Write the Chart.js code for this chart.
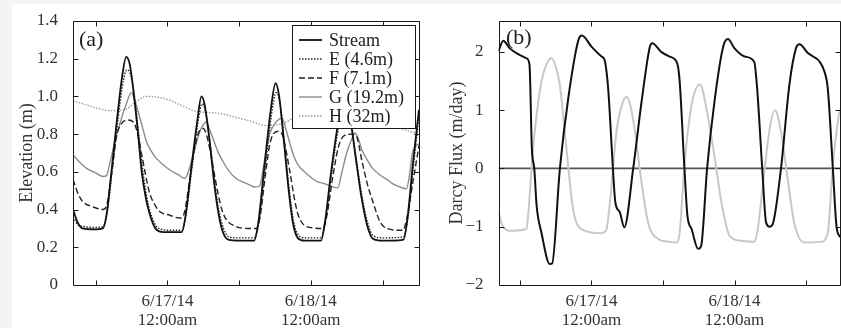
<!DOCTYPE html>
<html>
<head>
<meta charset="utf-8">
<script src="https://cdn.jsdelivr.net/npm/chart.js@4.4.0/dist/chart.umd.min.js"></script>
<style>
  body { margin: 0; background: #f4f4f4; width: 841px; height: 328px; overflow: hidden; position: relative; }
  #sheet { position: absolute; left: 12px; top: 4px; right: 0; bottom: 0; background: #fff; }
  canvas { position: absolute; top: 0; }
  #elev { left: 0; }
  #flux { left: 420px; }
</style>
</head>
<body>
<div id="sheet"></div>
<canvas id="elev" width="420" height="328"></canvas>
<canvas id="flux" width="421" height="328"></canvas>
<script>
// time axis: hours relative to 6/17/14 12:00am
const timeTicks = [-12, 0, 12, 24, 36];
const timeLabels = { 0: ['6/17/14', '12:00am'], 24: ['6/18/14', '12:00am'] };
const elevTicks = [0, 0.2, 0.4, 0.6, 0.8, 1.0, 1.2, 1.4];
const fluxTicks = [-2, -1, 0, 1, 2];

// (a) elevation (m), [hour, value]
const stream = [[-15.8,0.40],[-15.0,0.33],[-14.2,0.30],[-12,0.295],[-10.8,0.30],[-10.2,0.37],[-9.3,0.62],[-8.5,0.86],[-7.6,1.10],[-6.9,1.21],[-6.3,1.17],[-5.8,1.06],[-5.0,0.83],[-4.3,0.60],[-3.6,0.46],[-3.0,0.38],[-2.2,0.31],[-1.4,0.285],[0.5,0.28],[2.4,0.28],[3.0,0.36],[4.0,0.62],[5.0,0.87],[5.7,1.0],[6.2,0.96],[7.0,0.78],[7.9,0.52],[8.6,0.37],[9.3,0.28],[10.2,0.24],[12,0.235],[14.5,0.235],[15.2,0.33],[16.2,0.62],[17.3,0.93],[18.1,1.07],[18.7,1.0],[19.5,0.76],[20.3,0.50],[21.0,0.33],[21.8,0.25],[23,0.235],[25.7,0.235],[26.3,0.32],[27.4,0.60],[28.6,0.86],[29.7,0.95],[30.5,0.90],[31.4,0.70],[32.4,0.48],[33.4,0.32],[34.4,0.245],[36,0.235],[37.5,0.235],[39.5,0.24],[40.2,0.36],[41.1,0.65],[42.1,0.93]];
const wellE = [[-15.8,0.36],[-15,0.32],[-14,0.31],[-12,0.305],[-10.8,0.31],[-10.1,0.38],[-9.2,0.62],[-8.3,0.87],[-7.4,1.08],[-6.8,1.14],[-6.2,1.12],[-5.6,1.02],[-4.8,0.80],[-4.1,0.60],[-3.3,0.44],[-2.6,0.36],[-1.8,0.31],[-1,0.295],[0.5,0.29],[2.4,0.29],[3.1,0.37],[4.1,0.62],[5.1,0.86],[5.8,0.96],[6.3,0.93],[7.1,0.76],[8.0,0.52],[8.7,0.38],[9.4,0.30],[10.3,0.255],[12,0.25],[14.5,0.25],[15.3,0.33],[16.3,0.60],[17.4,0.90],[18.2,1.02],[18.8,0.97],[19.6,0.75],[20.4,0.50],[21.1,0.34],[21.9,0.265],[23,0.25],[25.7,0.25],[26.4,0.33],[27.5,0.60],[28.7,0.84],[29.8,0.92],[30.6,0.88],[31.5,0.69],[32.5,0.48],[33.5,0.33],[34.5,0.26],[36,0.25],[39.5,0.255],[40.3,0.37],[41.2,0.64],[42.1,0.90]];
const wellF = [[-15.8,0.56],[-14.9,0.48],[-14.1,0.44],[-12.5,0.415],[-10.8,0.40],[-10.1,0.43],[-9.3,0.60],[-8.5,0.79],[-7.7,0.855],[-6.6,0.875],[-5.6,0.86],[-4.9,0.79],[-4.3,0.69],[-3.0,0.49],[-2.0,0.42],[-1.3,0.39],[0.4,0.37],[2.1,0.355],[2.8,0.38],[3.7,0.55],[4.4,0.70],[5.1,0.80],[6.0,0.83],[6.6,0.79],[7.1,0.72],[8.5,0.48],[9.2,0.39],[9.9,0.345],[11.5,0.31],[13.5,0.30],[14.9,0.30],[15.5,0.36],[16.3,0.56],[17.1,0.74],[17.7,0.80],[18.6,0.815],[19.3,0.79],[20.5,0.60],[21.3,0.45],[21.9,0.37],[23.3,0.31],[26,0.30],[26.7,0.37],[27.6,0.56],[28.6,0.73],[29.5,0.79],[30.6,0.80],[31.6,0.79],[32.6,0.65],[33.5,0.53],[34.4,0.44],[35.5,0.34],[36.7,0.30],[39.4,0.29],[40.1,0.36],[41.1,0.55],[42.1,0.74]];
const wellG = [[-15.8,0.69],[-14.5,0.645],[-13.6,0.62],[-12,0.595],[-10.8,0.575],[-10.2,0.58],[-9.6,0.65],[-8.8,0.76],[-8.0,0.85],[-7.0,0.95],[-6.0,1.02],[-5.5,0.98],[-4.9,0.92],[-4.2,0.84],[-3.5,0.76],[-2.7,0.71],[-1.8,0.67],[-0.6,0.635],[0.4,0.61],[1.8,0.585],[2.9,0.565],[3.5,0.60],[4.6,0.725],[5.4,0.81],[6.0,0.85],[6.5,0.865],[7.0,0.83],[7.6,0.78],[8.4,0.71],[9.3,0.655],[10.4,0.60],[11.5,0.565],[12.7,0.545],[13.8,0.53],[14.6,0.52],[15.4,0.525],[16.2,0.65],[17.1,0.80],[18.2,0.865],[19.2,0.885],[19.8,0.83],[20.5,0.75],[21.2,0.68],[21.8,0.64],[23.3,0.59],[25.0,0.55],[26.5,0.535],[27.7,0.52],[28.5,0.515],[29.2,0.60],[30.0,0.70],[30.8,0.77],[31.4,0.806],[32.0,0.77],[32.5,0.72],[33.4,0.665],[34.3,0.62],[35.5,0.585],[36.7,0.56],[37.8,0.535],[38.9,0.52],[40.0,0.51],[40.5,0.58],[41.0,0.70],[42.1,0.75]];
const wellH = [[-15.8,0.975],[-13.5,0.955],[-11.5,0.935],[-9.6,0.925],[-7.1,0.93],[-5.5,0.965],[-3.5,1.0],[-1.5,0.995],[0.4,0.98],[2.5,0.95],[4.9,0.92],[6.8,0.915],[8.8,0.91],[11.3,0.89],[13.8,0.87],[16.6,0.845],[19.6,0.86],[22.1,0.90],[25.5,0.89],[28,0.88],[30.5,0.87],[33,0.865],[35.5,0.855],[38,0.84],[40.0,0.82],[42.1,0.80]];

// (b) darcy flux (m/day), [hour, value]
const fluxDark = [[-15.6,2.01],[-14.8,2.19],[-13.7,2.06],[-12.3,1.96],[-10.9,1.89],[-10.4,1.78],[-10.0,0.34],[-9.6,0],[-9.2,-0.64],[-8.4,-1.1],[-7.0,-1.64],[-6.6,-1.63],[-5.3,0],[-3.9,1.2],[-2.2,2.2],[-1.6,2.28],[0,2.09],[1.7,1.92],[2.2,1.86],[2.8,1.37],[3.6,0],[4.0,-0.58],[4.75,-0.75],[5.5,-1.01],[7.0,0],[8.4,1.14],[9.8,2.09],[10.2,2.15],[11.7,2.0],[13.1,1.92],[14.4,1.80],[14.8,1.49],[15.6,0],[16.1,-0.81],[16.8,-1.04],[17.9,-1.38],[18.4,-1.33],[19.4,0],[20.7,1.2],[22.1,2.09],[22.9,2.22],[24,2.06],[25.7,1.92],[27.3,1.83],[27.8,1.37],[28.65,0],[29.3,-0.93],[29.9,-1.0],[30.4,-0.96],[31.8,0],[33.2,1.43],[34.3,2.06],[34.9,2.13],[36.3,1.98],[38.3,1.83],[39.1,1.66],[39.65,1.37],[40.5,0],[41.1,-0.98],[41.7,-1.18]];
const fluxLight = [[-15.6,-0.75],[-14.8,-1.01],[-13.4,-1.07],[-10.9,-1.04],[-10.6,-0.78],[-9.8,0.34],[-8.4,1.49],[-7.4,1.82],[-6.7,1.89],[-6.0,1.75],[-5.3,1.43],[-4.2,0.34],[-3.1,-0.69],[-1.7,-1.04],[1.7,-1.11],[2.5,-1.05],[3.1,-0.58],[4.2,0.63],[5.2,1.12],[5.9,1.23],[6.6,1.05],[7.3,0.63],[8.4,-0.24],[9.5,-0.93],[11.2,-1.21],[13.1,-1.26],[14.3,-1.27],[14.8,-1.1],[15.6,0.05],[16.8,1.09],[18.2,1.44],[19.5,0.91],[20.7,0.17],[21.8,-0.58],[23.2,-1.16],[25.1,-1.24],[27.3,-1.26],[27.9,-1.04],[28.8,-0.24],[29.9,0.68],[30.8,1.0],[31.8,0.63],[33,-0.24],[34,-0.93],[35.7,-1.27],[38.5,-1.26],[39.65,-1.1],[40.5,0.05],[41.6,0.97],[41.7,1.0]];
const zeroLine = [[-15.6,0],[41.7,0]];

const serif = "'Liberation Serif', 'Times New Roman', serif";
Chart.defaults.font.family = serif;
Chart.defaults.animation = false;

const pts = arr => arr.map(([x, y]) => ({ x, y }));

// boxed axes with inward ticks on all four sides
const boxAxes = {
  id: 'boxAxes',
  afterDatasetsDraw(chart) {
    const { ctx, chartArea: a, scales } = chart;
    const l = Math.round(a.left) + 0.5, t = Math.round(a.top) + 0.5;
    const r = Math.round(a.right) + 0.5, b = Math.round(a.bottom) + 0.5;
    ctx.save();
    ctx.strokeStyle = '#1a1a1a';
    ctx.lineWidth = 1;
    ctx.beginPath();
    ctx.rect(l, t, r - l, b - t);
    scales.x.ticks.forEach(tk => {
      const px = Math.round(scales.x.getPixelForValue(tk.value)) + 0.5;
      ctx.moveTo(px, b); ctx.lineTo(px, b - 5);
      ctx.moveTo(px, t); ctx.lineTo(px, t + 5);
    });
    scales.y.ticks.forEach(tk => {
      const py = Math.round(scales.y.getPixelForValue(tk.value)) + 0.5;
      ctx.moveTo(l, py); ctx.lineTo(l + 5, py);
      ctx.moveTo(r, py); ctx.lineTo(r - 5, py);
    });
    ctx.stroke();
    ctx.restore();
  },
  afterDraw(chart, args, opts) {
    const ctx = chart.ctx;
    ctx.save();
    if (opts.panel) {
      ctx.fillStyle = '#222';
      ctx.font = '22px ' + serif;
      ctx.textBaseline = 'middle';
      ctx.fillText(opts.panel.text, opts.panel.x, opts.panel.y);
    }
    if (opts.legend) {
      const g = opts.legend;
      const sets = chart.data.datasets.filter(d => d.label);
      ctx.fillStyle = '#fff';
      ctx.fillRect(g.x, g.y, g.w, g.h);
      ctx.strokeStyle = '#1a1a1a';
      ctx.lineWidth = 1;
      ctx.strokeRect(g.x + 0.5, g.y + 0.5, g.w, g.h);
      ctx.font = '18px ' + serif;
      ctx.textBaseline = 'middle';
      sets.forEach((d, i) => {
        const yy = g.y + g.first + i * g.step;
        ctx.beginPath();
        ctx.setLineDash(d.borderDash || []);
        ctx.strokeStyle = d.borderColor;
        ctx.lineWidth = d.borderWidth;
        ctx.moveTo(g.x + 7, yy);
        ctx.lineTo(g.x + 30, yy);
        ctx.stroke();
        ctx.setLineDash([]);
        ctx.fillStyle = '#222';
        ctx.fillText(d.label, g.x + 37, yy + 1);
      });
    }
    ctx.restore();
  }
};

function timeAxis(min, max) {
  return {
    type: 'linear', min, max,
    grid: { display: false }, border: { display: false },
    afterBuildTicks: s => { s.ticks = timeTicks.map(v => ({ value: v })); },
    afterFit: s => { s.height = 43; },
    ticks: {
      autoSkip: false, maxRotation: 0, padding: -1, color: '#333',
      font: { size: 17, lineHeight: 1.12 },
      callback: v => timeLabels[v] || ''
    }
  };
}

function line(label, data, color, width, dash) {
  return {
    label, data: pts(data), borderColor: color, borderWidth: width,
    borderDash: dash, pointRadius: 0, fill: false,
    cubicInterpolationMode: 'monotone'
  };
}

new Chart(document.getElementById('elev'), {
  type: 'line',
  data: {
    datasets: [
      line('Stream', stream, '#111', 1.8, []),
      line('E (4.6m)', wellE, '#222', 1.4, [1.5, 1.5]),
      line('F (7.1m)', wellF, '#222', 1.4, [6, 3]),
      line('G (19.2m)', wellG, '#8c8c8c', 1.4, []),
      line('H (32m)', wellH, '#9a9a9a', 1.3, [1.5, 1.5])
    ]
  },
  options: {
    responsive: false,
    layout: { padding: { left: 12, top: 21, right: 1, bottom: 0 } },
    plugins: {
      legend: { display: false }, tooltip: { enabled: false },
      boxAxes: {
        panel: { text: '(a)', x: 79, y: 40 },
        legend: { x: 292, y: 25, w: 123, h: 103, first: 15, step: 19 }
      }
    },
    scales: {
      x: timeAxis(-15.8, 42.1),
      y: {
        min: 0, max: 1.4,
        grid: { display: false }, border: { display: false },
        afterBuildTicks: s => { s.ticks = elevTicks.map(v => ({ value: v })); },
        afterFit: s => { s.width = 61; },
        ticks: { padding: 7, color: '#333', font: { size: 17 },
          callback: v => v === 0 ? '0' : v.toFixed(1) },
        title: { display: true, text: 'Elevation (m)', color: '#333', font: { size: 18 } }
      }
    }
  },
  plugins: [boxAxes]
});

new Chart(document.getElementById('flux'), {
  type: 'line',
  data: {
    datasets: [
      line('', fluxDark, '#111', 2, []),
      line('', fluxLight, '#c8c8c8', 2, []),
      line('', zeroLine, '#555', 1.8, [])
    ]
  },
  options: {
    responsive: false,
    layout: { padding: { left: 22, top: 21, right: 1, bottom: 0 } },
    plugins: {
      legend: { display: false }, tooltip: { enabled: false },
      boxAxes: { panel: { text: '(b)', x: 86, y: 38 } }
    },
    scales: {
      x: timeAxis(-15.6, 41.7),
      y: {
        min: -2, max: 2.53,
        grid: { display: false }, border: { display: false },
        afterBuildTicks: s => { s.ticks = fluxTicks.map(v => ({ value: v })); },
        afterFit: s => { s.width = 56.5; },
        ticks: { padding: 7, color: '#333', font: { size: 17 },
          callback: v => v < 0 ? '\u2212' + Math.abs(v) : String(v) },
        title: { display: true, text: 'Darcy Flux (m/day)', color: '#333', font: { size: 18 } }
      }
    }
  },
  plugins: [boxAxes]
});
</script>
</body>
</html>
